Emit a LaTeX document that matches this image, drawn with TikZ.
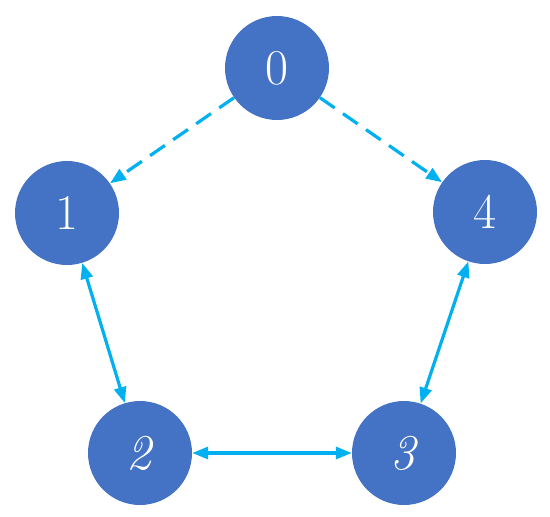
\documentclass[tikz,border=0pt]{standalone}
\usetikzlibrary{arrows.meta}
\definecolor{nodeblue}{HTML}{4472C4}
\definecolor{linkcyan}{HTML}{00B0F0}

\begin{document}
\begin{tikzpicture}[
    x=1pt, y=-1pt,
    vertex/.style={circle, fill=nodeblue, draw=none, minimum size=104pt, inner sep=0pt,
                   text=white, font=\fontsize{50}{54}\selectfont},
    link/.style={line width=3.2pt, linkcyan},
    oneway/.style={link, dash pattern=on 18pt off 10pt, -{Triangle[length=16pt, width=12pt]}},
    twoway/.style={link, {Triangle[length=16pt, width=12pt]}-{Triangle[length=16pt, width=12pt]}}
  ]
    \useasboundingbox (0,0) rectangle (550,517);
    \node[vertex] (n0) at (277,68) {0};
    \node[vertex] (n1) at (67,213) {1};
    \node[vertex] (n4) at (485,212) {4};
    \node[vertex] (n2) at (140,453) {\textit{2}};
    \node[vertex] (n3) at (404,453) {\textit{3}};
    \draw[oneway] (n0) -- (n1);
    \draw[oneway] (n0) -- (n4);
    \draw[twoway] (n1) -- (n2);
    \draw[twoway] (n4) -- (n3);
    \draw[twoway] (n2) -- (n3);
  \end{tikzpicture}
\end{document}
